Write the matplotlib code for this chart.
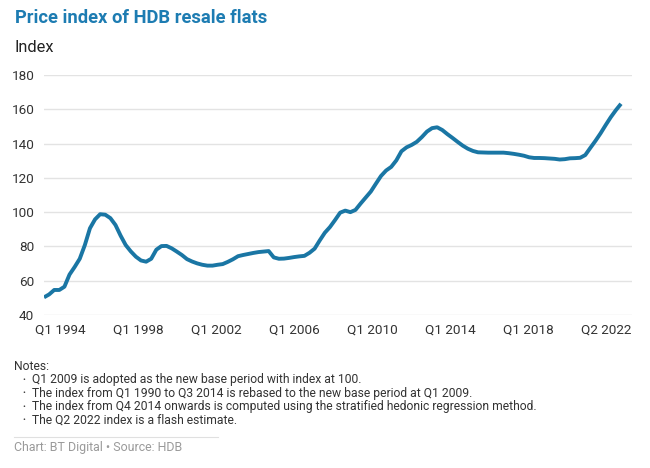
import numpy as np
import matplotlib
matplotlib.use("Agg")
import matplotlib.pyplot as plt
from matplotlib.lines import Line2D

# --- data: quarterly HDB resale price index, Q1 1994 .. Q2 2022 ---
index_values = [
    50.3, 52.0, 54.6, 54.6, 56.5, 63.6, 68.0, 72.8, 80.8, 90.6,   # 1994-1996
    95.8, 98.8, 98.5, 96.5, 92.5, 86.3, 80.8, 77.1, 74.0, 71.8,   # 1996-1998
    71.1, 72.8, 78.1, 80.2, 80.3, 78.9, 77.0, 75.0, 72.6, 71.2,   # 1999-2001
    70.1, 69.3, 68.8, 68.8, 69.3, 69.7, 71.0, 72.5, 74.3, 75.0,   # 2001-2003
    75.6, 76.2, 76.7, 77.0, 77.3, 73.6, 72.8, 72.9, 73.3, 73.8,   # 2004-2006
    74.2, 74.5, 76.3, 78.7, 83.5, 88.0, 91.3, 95.4, 99.7, 100.9,  # 2006-2008
    100.0, 101.3, 105.0, 108.5, 112.0, 116.6, 121.1, 124.3, 126.4, 130.2,  # 2009-2011
    135.5, 137.8, 139.2, 141.0, 143.8, 147.0, 149.0, 149.5, 147.9, 145.5,  # 2011-2013
    143.3, 141.0, 138.8, 137.0, 135.7, 134.9, 134.8, 134.7, 134.7, 134.7,  # 2014-2016
    134.7, 134.4, 134.0, 133.5, 132.9, 132.0, 131.6, 131.6, 131.5, 131.3,  # 2016-2018
    131.1, 130.7, 130.9, 131.4, 131.5, 131.7, 133.3, 137.5, 141.6, 146.0,  # 2019-2021
    150.8, 155.4, 159.5, 163.2,                                            # 2021-2022
]
tick_labels = ['Q1 1994', 'Q1 1998', 'Q1 2002', 'Q1 2006',
               'Q1 2010', 'Q1 2014', 'Q1 2018', 'Q2 2022']
y_ticks = [40, 60, 80, 100, 120, 140, 160, 180]

notes = [
    "Q1 2009 is adopted as the new base period with index at 100.",
    "The index from Q1 1990 to Q3 2014 is rebased to the new base period at Q1 2009.",
    "The index from Q4 2014 onwards is computed using the stratified hedonic regression method.",
    "The Q2 2022 index is a flash estimate.",
]

LINE_BLUE = '#1a76a4'
TITLE_BLUE = '#1d7cb2'
TEXT = '#333333'

plt.rcParams['font.family'] = ['Roboto', 'DejaVu Sans']

fig = plt.figure(figsize=(6.5, 4.68), dpi=100)
W, H = 650, 468

# axes in pixel terms of the reference
left, right, top, bottom = 44, 632, 75, 315
ax = fig.add_axes([left / W, 1 - bottom / H, (right - left) / W, (bottom - top) / H])

x = np.arange(len(index_values))
ax.plot(x, index_values, color=LINE_BLUE, linewidth=2.8, solid_capstyle='butt',
        solid_joinstyle='round', zorder=3)

px_per_q = (621 - 44) / (len(x) - 1)
ax.set_xlim(0, (right - left) / px_per_q)
ax.set_ylim(40, 180)

ax.set_yticks(y_ticks)
ax.set_yticklabels([str(v) for v in y_ticks])
ax.grid(axis='y', color='#e3e3e3', linewidth=1.0, zorder=0)
ax.tick_params(axis='y', length=0, pad=7, labelsize=9.7, labelcolor=TEXT)

# x labels evenly spread as in the reference
ax.set_xticks(np.linspace((60 - 44) / px_per_q, (606 - 44) / px_per_q, len(tick_labels)))
ax.set_xticklabels(tick_labels)
ax.tick_params(axis='x', length=0, pad=6, labelsize=9.7, labelcolor=TEXT)

for s in ax.spines.values():
    s.set_visible(False)

# --- titles ---
fig.text(15 / W, 1 - 18 / H, 'Price index of HDB resale flats', fontsize=13.2,
         fontweight='bold', color=TITLE_BLUE, va='center', ha='left')
fig.text(15 / W, 1 - 48 / H, 'Index', fontsize=11.8, color='#222222',
         va='center', ha='left')

# --- notes ---
fig.text(14 / W, 1 - 367 / H, 'Notes:', fontsize=8.7, color=TEXT, va='center')
for k, note in enumerate(notes):
    yy = 1 - (380 + k * 13.4) / H
    fig.text(22 / W, yy, '\u2022', fontsize=6, color=TEXT, va='center')
    fig.text(32 / W, yy, note, fontsize=8.7, color=TEXT, va='center')

fig.add_artist(Line2D([14 / W, 218 / W], [1 - 437 / H, 1 - 437 / H],
                      color='#e0e0e0', linewidth=0.8))
fig.text(14 / W, 1 - 447 / H, 'Chart: BT Digital \u2022 Source: HDB', fontsize=8.9,
         color='#9a9a9a', va='center')

fig.savefig('out.png', dpi=100, facecolor='white')
